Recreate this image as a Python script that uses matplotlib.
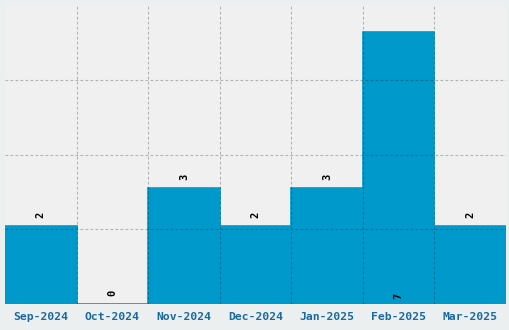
import matplotlib
matplotlib.use("Agg")
import matplotlib.pyplot as plt
import numpy as np

categories = ["Sep-2024", "Oct-2024", "Nov-2024", "Dec-2024", "Jan-2025", "Feb-2025", "Mar-2025"]
values = [2, 0, 3, 2, 3, 7, 2]

bar_color = "#0099CC"
fig = plt.figure(figsize=(5.1, 3.3), dpi=100, facecolor="#ECEFF0")
ax = fig.add_axes([5/510, 26/330, 501/510, 299/330])
ax.set_facecolor("#F0F0F0")

x = np.arange(len(categories))
ax.bar(x, values, width=1.0, color=bar_color, edgecolor=bar_color, linewidth=1.2, zorder=1)

ymax = max(values) * 1.1
ax.set_ylim(0, ymax)
ax.set_xlim(-0.5, len(categories) - 0.5)
ax.set_yticks(np.linspace(0, ymax, 5)[1:-1])
ax.set_yticklabels([])
ax.set_xticks(x)
ax.set_xticklabels(categories, fontfamily="DejaVu Sans Mono", fontweight="bold",
                   fontsize=8.2, color="#1A6A9E")
ax.set_xticks(np.arange(0.5, len(categories) - 0.5, 1), minor=True)
ax.tick_params(axis="both", which="both", length=0)
ax.tick_params(axis="x", pad=6)
ax.grid(True, axis="y", which="major", color="black", alpha=0.25, linewidth=0.8,
        linestyle=(0, (2.5, 2)), zorder=3)
ax.grid(True, axis="x", which="minor", color="black", alpha=0.25, linewidth=0.8,
        linestyle=(0, (2.5, 2)), zorder=3)
ax.set_axisbelow(False)
for s in ax.spines.values():
    s.set_visible(False)

for xi, v in zip(x, values):
    if v >= max(values):
        ax.annotate(str(v), (xi, 0), xytext=(0, 6), textcoords="offset points",
                    rotation=90, ha="center", va="center", fontsize=7.5,
                    fontfamily="DejaVu Sans Mono", fontweight="bold", color="black", zorder=4)
    else:
        ax.annotate(str(v), (xi, v), xytext=(0, 8), textcoords="offset points",
                    rotation=90, ha="center", va="center", fontsize=7.5,
                    fontfamily="DejaVu Sans Mono", fontweight="bold", color="black", zorder=4)

fig.savefig("out.png", dpi=100, facecolor=fig.get_facecolor())
